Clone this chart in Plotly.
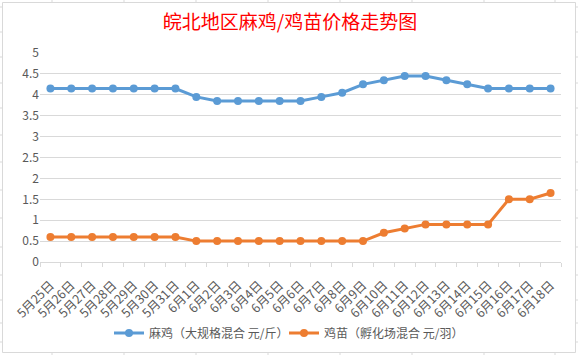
import plotly.graph_objects as go

dates = ["5月25日", "5月26日", "5月27日", "5月28日", "5月29日", "5月30日", "5月31日",
         "6月1日", "6月2日", "6月3日", "6月4日", "6月5日", "6月6日", "6月7日", "6月8日",
         "6月9日", "6月10日", "6月11日", "6月12日", "6月13日", "6月14日", "6月15日",
         "6月16日", "6月17日", "6月18日"]
maji = [4.15, 4.15, 4.15, 4.15, 4.15, 4.15, 4.15,
        3.95, 3.85, 3.85, 3.85, 3.85, 3.85, 3.95, 4.05,
        4.25, 4.35, 4.45, 4.45, 4.35, 4.25, 4.15,
        4.15, 4.15, 4.15]
jimiao = [0.6, 0.6, 0.6, 0.6, 0.6, 0.6, 0.6,
          0.5, 0.5, 0.5, 0.5, 0.5, 0.5, 0.5, 0.5,
          0.5, 0.7, 0.8, 0.9, 0.9, 0.9, 0.9,
          1.5, 1.5, 1.65]
name_maji = "麻鸡（大规格混合 元/斤）"
name_jimiao = "鸡苗（孵化场混合 元/羽）"
title = "皖北地区麻鸡/鸡苗价格走势图"

W, H = 578, 355
L, R, T, B = 40, 17, 53, 93
PW, PH = W - L - R, H - T - B

def px(x):
    return (x - L) / PW

def py(y):
    return (H - B - y) / PH

FONT = "Noto Sans CJK SC, Microsoft YaHei, sans-serif"
GRID = "#d9d9d9"

fig = go.Figure()
fig.add_trace(go.Scatter(x=dates, y=maji, name=name_maji, mode="lines+markers",
                         line=dict(color="#5B9BD5", width=3),
                         marker=dict(color="#5B9BD5", size=8)))
fig.add_trace(go.Scatter(x=dates, y=jimiao, name=name_jimiao, mode="lines+markers",
                         line=dict(color="#ED7D31", width=3),
                         marker=dict(color="#ED7D31", size=8)))

shapes = [dict(type="rect", xref="paper", yref="paper",
               x0=px(2.5), x1=px(575.5), y0=py(352.5), y1=py(2.5),
               line=dict(color=GRID, width=1), fillcolor="rgba(0,0,0,0)", layer="below")]
# spreadsheet grid stubs outside the chart border
for yy in [7, 32, 57, 83, 108, 135, 162, 190, 218, 247, 275, 300, 323, 342]:
    shapes.append(dict(type="line", xref="paper", yref="paper",
                       x0=px(0), x1=px(2.5), y0=py(yy), y1=py(yy),
                       line=dict(color=GRID, width=1)))
    shapes.append(dict(type="line", xref="paper", yref="paper",
                       x0=px(575.5), x1=px(578), y0=py(yy), y1=py(yy),
                       line=dict(color=GRID, width=1)))
for xx in [52, 124, 196, 268, 340, 412, 484, 555]:
    shapes.append(dict(type="line", xref="paper", yref="paper",
                       x0=px(xx), x1=px(xx), y0=py(0), y1=py(2.5),
                       line=dict(color=GRID, width=1)))
    shapes.append(dict(type="line", xref="paper", yref="paper",
                       x0=px(xx), x1=px(xx), y0=py(352.5), y1=py(355),
                       line=dict(color=GRID, width=1)))

fig.update_layout(
    width=W, height=H,
    margin=dict(l=L, r=R, t=T, b=B, autoexpand=False),
    paper_bgcolor="white", plot_bgcolor="white",
    font=dict(family=FONT, color="#595959", size=11),
    title=dict(text=title, x=px(290), xanchor="center", xref="paper",
               y=1 - 22 / H, yanchor="middle", yref="container",
               font=dict(family=FONT, color="#FF0000", size=19)),
    showlegend=True,
    legend=dict(orientation="h", x=px(284), xanchor="center", y=py(333), yanchor="middle",
                font=dict(size=12, color="#595959"), itemwidth=30,
                entrywidth=130, entrywidthmode="pixels"),
    shapes=shapes,
    xaxis=dict(type="category", tickangle=-45, ticks="outside", tickson="boundaries",
               ticklen=4, tickcolor=GRID, showline=True, linecolor=GRID, linewidth=1,
               showgrid=False, range=[-0.5, len(dates) - 0.5], automargin=False,
               ticklabelstandoff=10,
               tickfont=dict(size=12.5, color="#595959")),
    yaxis=dict(range=[0, 5], dtick=0.5, tick0=0, showgrid=True, gridcolor=GRID,
               gridwidth=1, zeroline=False, showline=False, ticks="", automargin=False,
               tickfont=dict(size=12, color="#595959")),
)

fig.write_html("out.html", config={"displayModeBar": False},
               post_script="document.body.style.margin='0';")
